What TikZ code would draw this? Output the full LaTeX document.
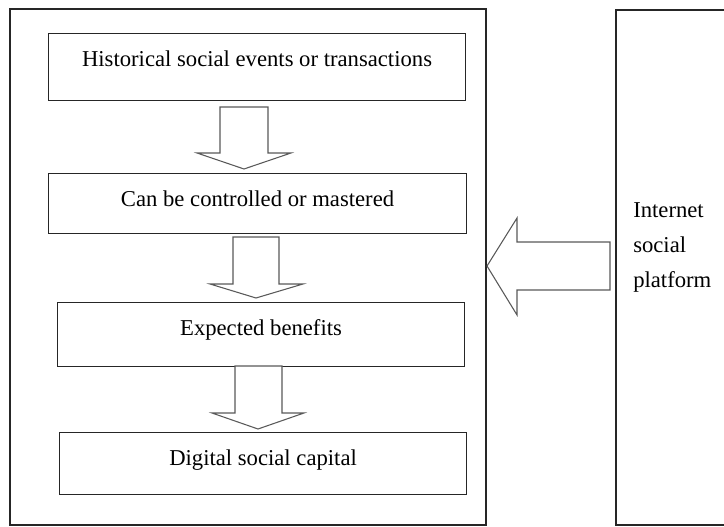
\documentclass[tikz,border=0pt]{standalone}
\usepackage{fontspec}
\setmainfont{Liberation Serif}
\begin{document}
\begin{tikzpicture}[x=0.75pt,y=-0.75pt,
  boxline/.style={draw=black!85,line width=0.8pt},
  stepbox/.style={boxline,inner sep=0pt,anchor=north west,text height=24.75pt,
    font=\fontsize{17}{20}\selectfont},
  blockarrow/.style={draw=black!65,line width=0.8pt,fill=white,line join=miter}]
\useasboundingbox (0,0) rectangle (724,527);
\clip (0,0) rectangle (724,527);
% frames
\draw[boxline] (10,9) rectangle (486,525);
\draw[boxline] (616,10) rectangle (740,525);
% boxes
\node[stepbox,minimum width=312.75pt,text depth=25.5pt] (b1) at (48,33) {Historical social events or transactions};
\node[stepbox,minimum width=313.5pt,text depth=20.25pt] (b2) at (48,173) {Can be controlled or mastered};
\node[stepbox,minimum width=305.25pt,text depth=23.25pt] (b3) at (57,302) {Expected benefits};
\node[stepbox,minimum width=305.25pt,text depth=21.75pt] (b4) at (59,432) {Digital social capital};
% down arrows
\draw[blockarrow] (220,107) -- (268,107) -- (268,153) -- (291,153) -- (244,169) -- (197,153) -- (220,153) -- cycle;
\draw[blockarrow] (233,237) -- (279,237) -- (279,284) -- (303,284) -- (256,298) -- (210,284) -- (233,284) -- cycle;
\draw[blockarrow] (235,366) -- (282,366) -- (282,413) -- (304,413) -- (258,429) -- (212,413) -- (235,413) -- cycle;
% left arrow
\draw[blockarrow] (610,242) -- (517,242) -- (517,218) -- (487,266) -- (517,315) -- (517,290) -- (610,290) -- cycle;
% platform text
\node[anchor=base west,inner sep=0pt,align=left,font=\fontsize{17}{26.25}\selectfont] (plat) at (633,287) {Internet\\social\\platform};
\end{tikzpicture}
\end{document}
